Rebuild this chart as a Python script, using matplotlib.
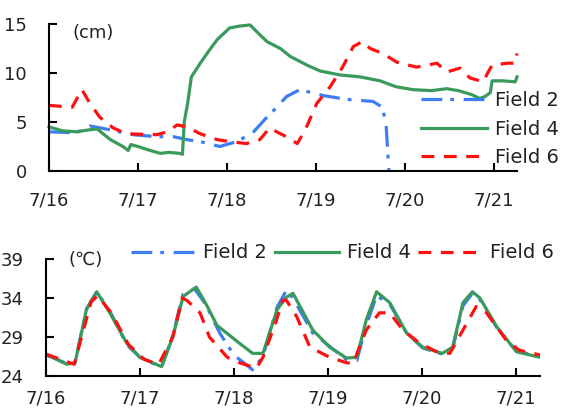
import matplotlib
matplotlib.use("Agg")
import matplotlib.pyplot as plt

# ---------------- data ----------------
# water depth (cm), days since 7/16 00:00
depth_f2_t = [0, 0.31, 0.46, 0.69, 0.95, 1.21, 1.4, 1.55, 1.7, 1.92, 2.11, 2.29, 2.45, 2.56, 2.67,
              2.82, 3.08, 3.35, 3.64, 3.75, 3.79, 3.82]
depth_f2 = [4.0, 3.9, 4.6, 4.2, 3.7, 3.5, 3.5, 3.2, 3.0, 2.5, 3.0, 3.9, 5.5, 6.5, 7.6,
            8.3, 7.7, 7.3, 7.1, 6.5, 4.5, 0.0]

depth_f4_t = [0, 0.15, 0.31, 0.45, 0.54, 0.69, 0.83, 0.89, 0.92, 1.0, 1.1, 1.25, 1.35, 1.47, 1.50,
              1.52, 1.56, 1.6, 1.7, 1.8, 1.89, 2.03, 2.15, 2.26, 2.37, 2.45, 2.6, 2.71, 2.9, 3.05,
              3.27, 3.5, 3.72, 3.9, 4.09, 4.3, 4.47, 4.6, 4.75, 4.84, 4.9, 4.96, 4.98, 5.1, 5.24, 5.26]
depth_f4 = [4.5, 4.1, 4.0, 4.2, 4.3, 3.2, 2.5, 2.1, 2.7, 2.5, 2.2, 1.8, 1.9, 1.8, 1.7,
            5.0, 7.0, 9.6, 11.0, 12.3, 13.4, 14.6, 14.8, 14.9, 13.9, 13.2, 12.5, 11.7, 10.8, 10.2,
            9.8, 9.6, 9.2, 8.6, 8.3, 8.2, 8.4, 8.2, 7.8, 7.4, 7.6, 8.0, 9.2, 9.2, 9.1, 9.6]

depth_f6_t = [0, 0.26, 0.37, 0.46, 0.57, 0.72, 0.87, 1.21, 1.33, 1.44, 1.55, 1.7, 1.89, 2.03, 2.22,
              2.37, 2.48, 2.6, 2.67, 2.79, 2.88, 3.01, 3.16, 3.3, 3.42, 3.52, 3.61, 3.75, 3.91, 4.13,
              4.36, 4.47, 4.62, 4.73, 4.88, 4.93, 4.98, 5.15, 5.24, 5.26]
depth_f6 = [6.7, 6.5, 8.3, 6.9, 5.5, 4.4, 3.8, 3.7, 4.0, 4.7, 4.5, 3.8, 3.2, 3.0, 2.8,
            3.2, 4.4, 3.8, 3.5, 2.8, 4.2, 6.9, 8.6, 10.6, 12.7, 13.2, 12.5, 12.0, 11.1, 10.6,
            11.0, 10.1, 10.5, 9.5, 9.1, 10.0, 10.8, 11.0, 11.0, 12.0]

# water temperature (deg C)
temp_f2_t = [0, 0.22, 0.31, 0.43, 0.54, 0.68, 0.86, 1.0, 1.23, 1.35, 1.46, 1.58, 1.7, 1.85, 2.0,
             2.2, 2.31, 2.46, 2.56, 2.63, 2.84, 3.02, 3.2, 3.31, 3.41, 3.52, 3.66, 3.84, 4.01, 4.22,
             4.33, 4.44, 4.54, 4.62, 4.8, 5.01, 5.26]
temp_f2 = [26.7, 25.6, 25.7, 32.6, 34.8, 32.3, 28.0, 26.4, 25.1, 29.2, 34.5, 35.2, 33.2, 29.5, 26.7,
           24.8, 26.5, 32.8, 35.0, 34.0, 29.5, 27.8, 26.1, 26.0, 30.5, 34.3, 33.2, 29.5, 27.6, 26.8,
           27.5, 33.0, 34.6, 33.8, 30.2, 27.2, 26.5]

temp_f4_t = [0.02, 0.22, 0.31, 0.43, 0.54, 0.68, 0.86, 1.0, 1.23, 1.35, 1.46, 1.6, 1.71, 1.82, 2.06,
             2.2, 2.31, 2.46, 2.56, 2.63, 2.84, 3.02, 3.2, 3.31, 3.41, 3.52, 3.66, 3.84, 4.01, 4.22,
             4.33, 4.44, 4.54, 4.62, 4.8, 5.01, 5.26]
temp_f4 = [26.7, 25.5, 25.7, 32.5, 34.8, 32.1, 28.2, 26.4, 25.2, 29.0, 34.2, 35.4, 33.1, 30.5, 28.2,
           26.9, 26.9, 32.5, 34.1, 34.6, 29.9, 27.7, 26.3, 26.4, 31.2, 34.8, 33.4, 29.5, 27.7, 26.9,
           27.7, 33.4, 34.8, 34.0, 30.3, 27.1, 26.4]

temp_f6_t = [0, 0.3, 0.48, 0.55, 0.7, 0.88, 1.05, 1.2, 1.35, 1.45, 1.5, 1.64, 1.74, 1.93, 2.06,
             2.24, 2.31, 2.45, 2.52, 2.56, 2.67, 2.81, 3.02, 3.2, 3.27, 3.41, 3.55, 3.66, 3.8, 3.98,
             4.16, 4.3, 4.44, 4.58, 4.69, 4.9, 5.04, 5.26]
temp_f6 = [26.8, 25.5, 33.5, 34.3, 32.0, 28.0, 26.1, 25.5, 29.0, 34.0, 33.7, 32.1, 29.0, 26.4, 25.7,
           25.0, 26.4, 31.0, 33.7, 33.7, 31.6, 27.7, 26.4, 25.7, 25.6, 29.9, 32.1, 32.1, 29.9, 28.2,
           27.1, 26.9, 29.9, 32.9, 32.1, 28.6, 27.3, 26.7]

series_names = ["Field 2", "Field 4", "Field 6"]
date_labels = ["7/16", "7/17", "7/18", "7/19", "7/20", "7/21"]
depth_ticks = [0, 5, 10, 15]
temp_ticks = [24, 29, 34, 39]

# ---------------- styles ----------------
BLUE = "#3d7df2"
GREEN = "#3a9a5c"
RED = "#ff1010"
LW = 2.3
styles = [
    dict(color=BLUE, lw=LW, linestyle=(0, (6.5, 2.5, 1.2, 3.0))),
    dict(color=GREEN, lw=LW, linestyle="-"),
    dict(color=RED, lw=LW, linestyle=(0, (4.0, 3.0))),
]
TXT = "#222222"
FS = 13

W, H = 571, 412
fig = plt.figure(figsize=(W / 100, H / 100), dpi=100)
fig.patch.set_facecolor("white")


def style_axes(ax, yticks, ylim, xpad):
    ax.set_xlim(0, 5.26)
    ax.set_ylim(*ylim)
    ax.set_xticks(range(len(date_labels)))
    ax.set_xticklabels(date_labels)
    ax.set_yticks(yticks)
    ax.spines["top"].set_visible(False)
    ax.spines["right"].set_visible(False)
    for s in ("left", "bottom"):
        ax.spines[s].set_linewidth(1.5)
        ax.spines[s].set_color("black")
    ax.tick_params(axis="both", direction="in", length=6, width=1.5, labelsize=FS,
                   labelcolor=TXT)
    ax.tick_params(axis="x", pad=xpad)
    ax.tick_params(axis="y", pad=16)
    ax.set_facecolor("none")


# top panel: water depth
ax1 = fig.add_axes([49 / W, 1 - 171 / H, (517 - 49) / W, (171 - 24) / H])
for t, v, name, st in zip([depth_f2_t, depth_f4_t, depth_f6_t],
                          [depth_f2, depth_f4, depth_f6], series_names, styles):
    ax1.plot(t, v, label=name, clip_on=False, **st)
style_axes(ax1, depth_ticks, (0, 15), 15)
fig.text(72 / W, 1 - 33 / H, "(cm)", fontsize=FS, color=TXT, va="center", ha="left")
leg1 = fig.legend(loc="center left", bbox_to_anchor=(421 / W, 1 - 129 / H), frameon=False,
                  fontsize=14, handlelength=3.4, handletextpad=0.4, labelspacing=0.5,
                  borderpad=0, borderaxespad=0)
for txt in leg1.get_texts():
    txt.set_color(TXT)

# bottom panel: water temperature
ax2 = fig.add_axes([46 / W, 1 - 376 / H, (540 - 46) / W, (376 - 259) / H])
for t, v, name, st in zip([temp_f2_t, temp_f4_t, temp_f6_t],
                          [temp_f2, temp_f4, temp_f6], series_names, styles):
    ax2.plot(t, v, label=name, **st)
style_axes(ax2, temp_ticks, (24, 39), 10)
fig.text(68 / W, 1 - 260 / H, "(\u2103)", fontsize=FS, color=TXT, va="center", ha="left")
leg2 = ax2.legend(loc="center left", bbox_to_anchor=(131 / W, 1 - 253 / H),
                  bbox_transform=fig.transFigure, ncol=3, frameon=False, fontsize=14,
                  handlelength=3.3, handletextpad=0.4, columnspacing=0.4,
                  borderpad=0, borderaxespad=0)
for txt in leg2.get_texts():
    txt.set_color(TXT)

fig.savefig("out.png", dpi=100)
